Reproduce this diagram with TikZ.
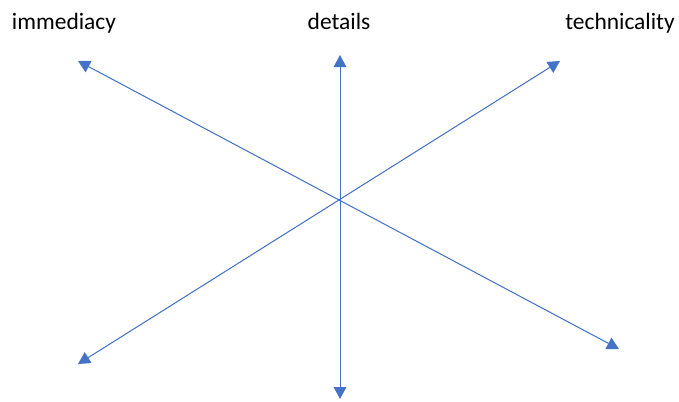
\documentclass[tikz,border=0pt]{standalone}
\usepackage{fontspec}
\setmainfont{Carlito}
\usetikzlibrary{arrows.meta,positioning}
\definecolor{axisblue}{HTML}{4472C4}

\begin{document}
\begin{tikzpicture}[x=0.75pt, y=-0.75pt,
    axis/.style={{Triangle[length=9pt,width=9.5pt]}-{Triangle[length=9pt,width=9.5pt]}, draw=axisblue, fill=axisblue, line width=0.75pt},
    lbl/.style={font=\fontsize{17.6}{20}\selectfont, inner sep=0pt, anchor=base}
]
\useasboundingbox (0,0) rectangle (679,401);

% Axis end points
\coordinate (center) at (340,200);
\coordinate (immtip) at (78,61);
\coordinate (dettip) at (340,55);
\coordinate (techtip) at (560,61);
\coordinate (bltip) at (78,364);
\coordinate (btip) at (340,399);
\coordinate (brtip) at (619,349);

% Labels
\node[lbl] (immediacy) at (64,29) {immediacy};
\node[lbl] (details) at (339,29) {details};
\node[lbl] (technicality) at (620,29) {technicality};

% Axes
\draw[axis] (immtip) -- (brtip);
\draw[axis] (dettip) -- (btip);
\draw[axis] (techtip) -- (bltip);

\end{tikzpicture}
\end{document}
